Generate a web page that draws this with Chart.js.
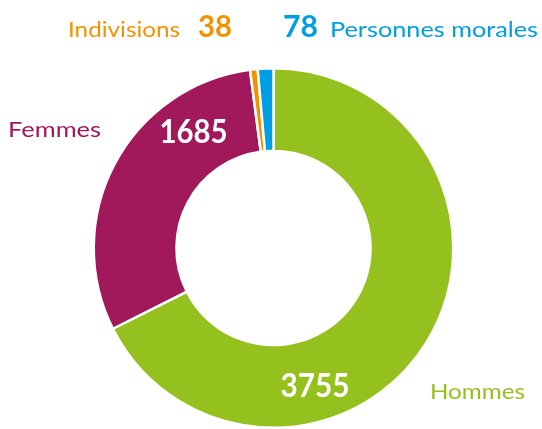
<!DOCTYPE html>
<html><head><meta charset="utf-8">
<script src="https://cdn.jsdelivr.net/npm/chart.js@4"></script>
<style>
html,body{margin:0;padding:0;background:#fff;overflow:hidden;}
#wrap{position:relative;width:542px;height:432px;}
</style></head>
<body><div id="wrap"><canvas id="c"></canvas></div>
<script>
const categories = ["Hommes", "Femmes", "Indivisions", "Personnes morales"];
const values = [3755, 1685, 38, 78];
const colors = ["#95c11f", "#a2195b", "#f39200", "#009fe3"];

const FONT = "Lato, 'Liberation Sans', sans-serif";
const labelPlugin = {
  id: 'labels',
  afterDraw(chart) {
    const ctx = chart.ctx;
    const meta = chart.getDatasetMeta(0);
    const cx = meta.data[0].x, cy = meta.data[0].y;
    ctx.save();
    ctx.textBaseline = 'alphabetic';
    ctx.textAlign = 'left';
    function t(txt, x, y, size, bold, color, w) {
      ctx.font = (bold ? 'bold ' : '') + size + 'px ' + FONT;
      ctx.fillStyle = color;
      const mw = ctx.measureText(txt).width;
      const s = w ? w / mw : 1;
      ctx.save();
      ctx.translate(x, y);
      ctx.scale(s, 1);
      ctx.fillText(txt, 0, 0);
      ctx.restore();
    }
    // top labels
    t(categories[2], 68, 37, 22, false, colors[2], 112);
    t(String(values[2]), 198, 37, 31, true, colors[2], 34);
    t(String(values[3]), 283, 37, 31, true, colors[3], 35);
    t(categories[3], 330, 37, 22, false, colors[3], 208);
    // side labels
    t(categories[1], 8, 137, 22, false, colors[1], 93);
    t(categories[0], 430, 399, 22, false, colors[0], 95);
    // values inside slices
    t(String(values[1]), cx - 114, cy - 105, 32, true, '#ffffff', 68);
    t(String(values[0]), cx + 7, cy + 149, 32, true, '#ffffff', 69);
    ctx.restore();
  }
};

new Chart(document.getElementById('c'), {
  type: 'doughnut',
  data: {
    labels: categories,
    datasets: [{
      data: values,
      backgroundColor: colors,
      borderColor: '#ffffff',
      borderWidth: 2.5,
      hoverOffset: 0
    }]
  },
  options: {
    responsive: true,
    maintainAspectRatio: false,
    animation: false,
    cutout: '54%',
    layout: { padding: { top: 67, bottom: 3, left: 5, right: 0 } },
    plugins: { legend: { display: false }, tooltip: { enabled: false } }
  },
  plugins: [labelPlugin]
});
</script></body></html>
